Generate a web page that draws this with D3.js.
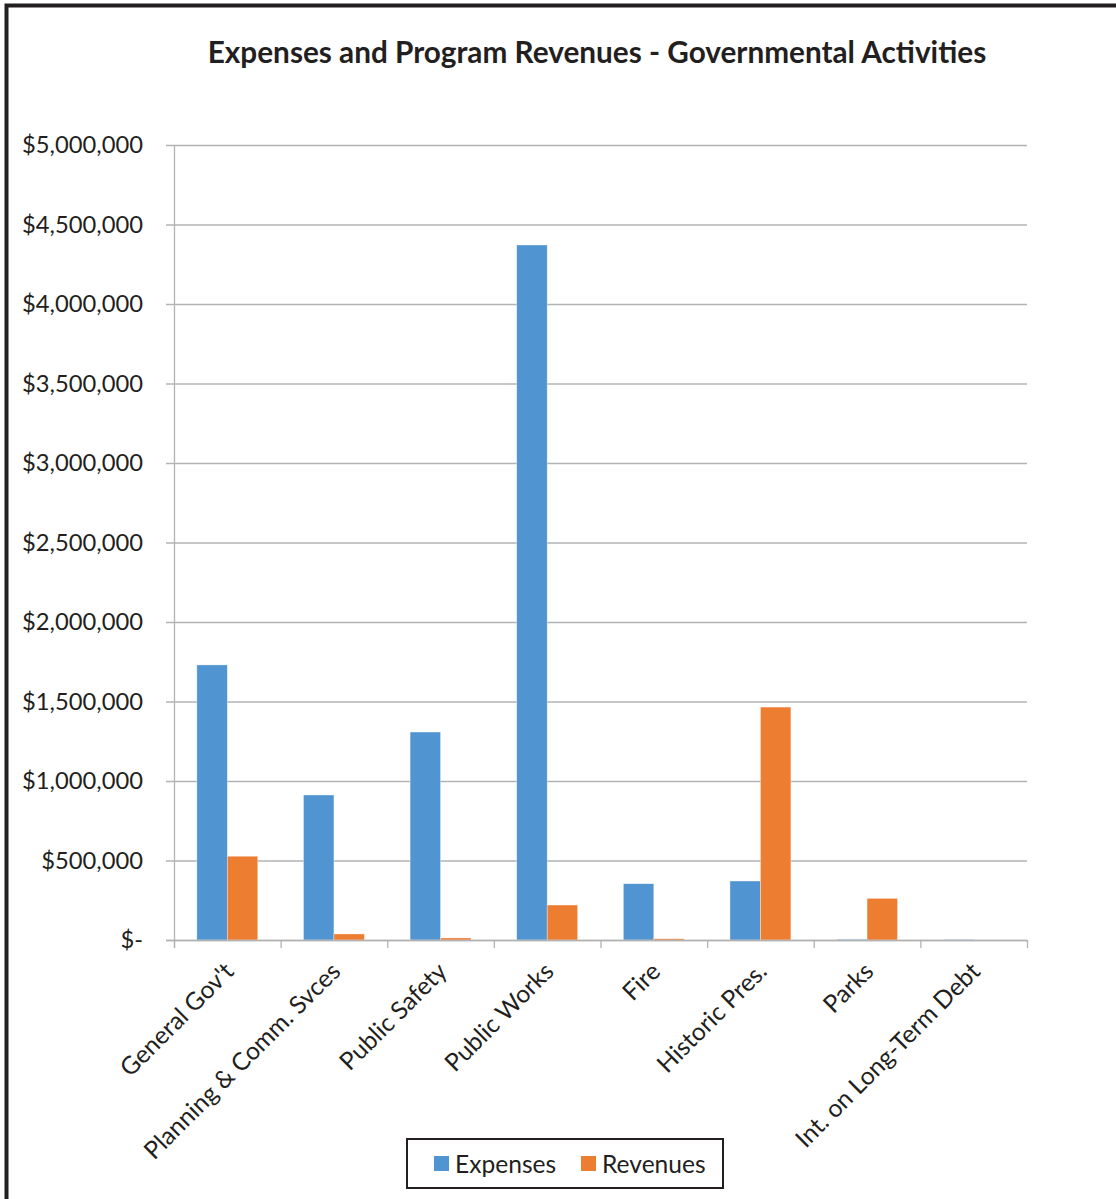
<!DOCTYPE html>
<html><head><meta charset="utf-8">
<script src="https://cdn.jsdelivr.net/npm/d3@7/dist/d3.min.js"></script>
<style>body{margin:0;background:#fff}svg{display:block}</style>
</head><body>
<script>
const categories = ["General Gov't","Planning & Comm. Svces","Public Safety","Public Works","Fire","Historic Pres.","Parks","Int. on Long-Term Debt"];
const seriesNames = ["Expenses","Revenues"];
const expenses = [1730000, 912000, 1308000, 4371000, 354000, 371000, 5000, 4000];
const revenues = [527000, 38000, 13000, 220000, 8000, 1465000, 262000, 0];
const yTicks = [0,500000,1000000,1500000,2000000,2500000,3000000,3500000,4000000,4500000,5000000];
const colors = ["#5095D1","#ED7D31"];
const title = "Expenses and Program Revenues - Governmental Activities";

const W = 1116, H = 1199;
const m = {left:174, top:145, right:1027, bottom:940};
const font = "Lato, 'Open Sans', sans-serif";
const txt = "#231f20";

const svg = d3.select("body").append("svg").attr("width",W).attr("height",H);
svg.append("rect").attr("width",W).attr("height",H).attr("fill","#fff");
// frame
svg.append("path").attr("d",`M6.5,${H} V5.5 H${W}`).attr("fill","none").attr("stroke","#231f20").attr("stroke-width",4);

function fit(sel, target){
  let fs = +sel.attr("font-size");
  const w = sel.node().getComputedTextLength();
  sel.attr("font-size", fs*target/w);
  return fs*target/w;
}

const t = svg.append("text").attr("x",597).attr("y",63).attr("text-anchor","middle")
  .attr("font-family",font).attr("font-weight","bold").attr("font-size",26).attr("fill",txt).text(title);
fit(t, 779);

const x0 = d3.scaleBand().domain(categories).range([m.left,m.right]).paddingInner(0).paddingOuter(0);
const x1 = d3.scaleBand().domain(seriesNames).range([0,x0.bandwidth()]).paddingInner(0).paddingOuter(0.75);
const y = d3.scaleLinear().domain([0,5000000]).range([m.bottom,m.top]);

const fmt = v => v===0 ? "$-" : "$" + d3.format(",")(v);

// gridlines
const g = svg.append("g");
g.selectAll("line.grid").data(yTicks).join("line")
  .attr("x1",m.left-8).attr("x2",m.right).attr("y1",d=>y(d)+0.5).attr("y2",d=>y(d)+0.5)
  .attr("stroke","#b3b3b3").attr("stroke-width",1.3);

// y labels
const yl = svg.append("g").selectAll("text").data(yTicks).join("text")
  .attr("x",143).attr("y",d=>y(d)).attr("dy","0.35em").attr("text-anchor","end")
  .attr("font-family",font).attr("font-size",22).attr("fill",txt).text(fmt);
const fs = fit(d3.select(yl.nodes()[yTicks.length-1]), 121);
yl.attr("font-size",fs);

// bars
const data = categories.map((c,i)=>({c, vals:[expenses[i],revenues[i]]}));
const bg = svg.append("g").selectAll("g").data(data).join("g").attr("transform",d=>`translate(${x0(d.c)},0)`);
bg.selectAll("rect").data(d=>d.vals.map((v,j)=>({k:seriesNames[j],v,j}))).join("rect")
  .attr("x",d=>x1(d.k)).attr("width",x1.bandwidth())
  .attr("y",d=>y(d.v)).attr("height",d=>m.bottom-y(d.v))
  .attr("fill",d=>colors[d.j]).attr("stroke","#fff").attr("stroke-width",0.6).attr("stroke-opacity",0.6);

// axes lines
svg.append("line").attr("x1",m.left+0.5).attr("x2",m.left+0.5).attr("y1",m.top).attr("y2",m.bottom+8).attr("stroke","#b3b3b3").attr("stroke-width",1.3);
svg.append("line").attr("x1",m.left-8).attr("x2",m.right).attr("y1",m.bottom+0.5).attr("y2",m.bottom+0.5).attr("stroke","#b3b3b3").attr("stroke-width",1.5);
const bounds = categories.map(c=>x0(c)).concat([m.right]);
svg.append("g").selectAll("line").data(bounds).join("line")
  .attr("x1",d=>d+0.5).attr("x2",d=>d+0.5).attr("y1",m.bottom).attr("y2",m.bottom+8)
  .attr("stroke","#b3b3b3").attr("stroke-width",1.3);

// x labels
svg.append("g").selectAll("text").data(categories).join("text")
  .attr("transform",d=>`translate(${x0(d)+x0.bandwidth()/2+8},${m.bottom+33}) rotate(-45)`)
  .attr("text-anchor","end").attr("font-family",font).attr("font-size",fs*1.035).attr("fill",txt).text(d=>d);

// legend
const lg = svg.append("g");
lg.append("rect").attr("x",407).attr("y",1139).attr("width",316).attr("height",49).attr("fill","#fff").attr("stroke","#231f20").attr("stroke-width",2);
const lx = [434, 581];
seriesNames.forEach((s,i)=>{
  lg.append("rect").attr("x",lx[i]).attr("y",1156).attr("width",15).attr("height",15).attr("fill",colors[i]);
  lg.append("text").attr("x",lx[i]+21).attr("y",1164).attr("dy","0.35em").attr("font-family",font).attr("font-size",fs*1.035).attr("fill",txt).text(s);
});
</script>
</body></html>
